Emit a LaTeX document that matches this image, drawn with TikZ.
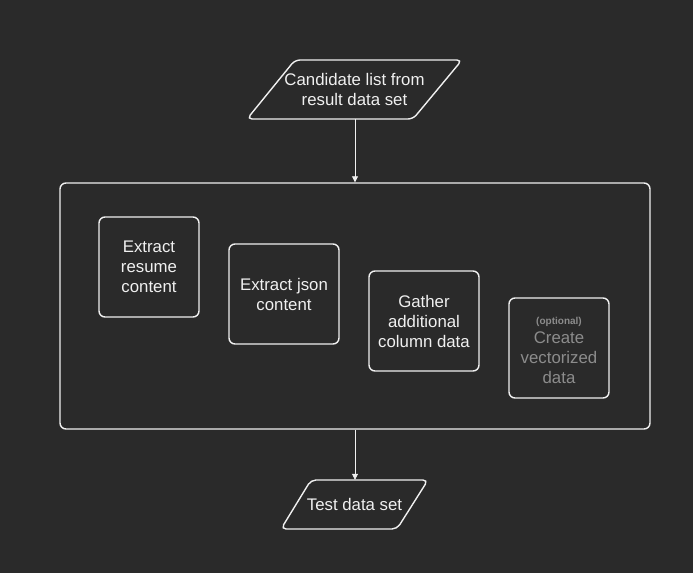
\documentclass[tikz,border=0pt]{standalone}
\usepackage{fontspec}
\setmainfont{Liberation Sans}
\usetikzlibrary{arrows.meta}
\definecolor{bg}{HTML}{2A2A2A}
\definecolor{fg}{HTML}{F0F0F0}
\definecolor{dim}{HTML}{8C8C8C}
\begin{document}
\begin{tikzpicture}[x=1pt,y=-1pt,
  box/.style={draw=fg,line width=1.4pt,rounded corners=6pt,align=center,text=fg,font=\fontsize{16.8}{20}\selectfont,inner sep=0pt},
  para/.style={draw=fg,line width=1.4pt,rounded corners=5pt},
  lbl/.style={text=fg,align=center,font=\fontsize{16.8}{20}\selectfont,inner sep=0pt},
  conn/.style={draw=fg,line width=0.8pt,-{Triangle[width=6pt,length=6pt]}}]
\fill[bg] (0,0) rectangle (693,573);
\useasboundingbox (0,0) rectangle (693,573);
% top parallelogram
\draw[para] (295,60) -- (462,60) -- (413,119) -- (247,119) -- cycle;
\node[lbl,minimum width=166pt,minimum height=59pt] (src) at (354.5,89.5) {Candidate list from\\result data set};
% container
\node[draw=fg,line width=1.4pt,rounded corners=6pt,minimum width=590pt,minimum height=246pt,inner sep=0pt] (cont) at (355,306) {};
% boxes
\node[box,minimum width=100pt,minimum height=100pt] (b1) at (149,267) {Extract\\resume\\content};
\node[box,minimum width=110pt,minimum height=100pt] (b2) at (284,294) {Extract json\\content};
\node[box,minimum width=110pt,minimum height=100pt] (b3) at (424,321) {Gather\\additional\\column data};
\node[box,minimum width=100pt,minimum height=100pt] (b4) at (559,348) {};
\node[lbl,text=dim] (b4t) at ([yshift=-2pt]b4.center) {{\fontsize{10}{12}\selectfont\bfseries (optional)}\\[-1pt]Create\\vectorized\\data};
% bottom parallelogram
\draw[para] (311,480) -- (428,480) -- (397,529) -- (281,529) -- cycle;
\node[lbl,minimum width=116pt,minimum height=49pt] (out) at (354.5,504.5) {Test data set};
% connectors
\draw[conn] (src.south -| cont.north) -- (cont.north);
\draw[conn] (cont.south) -- (cont.south |- out.north);
\end{tikzpicture}
\end{document}
